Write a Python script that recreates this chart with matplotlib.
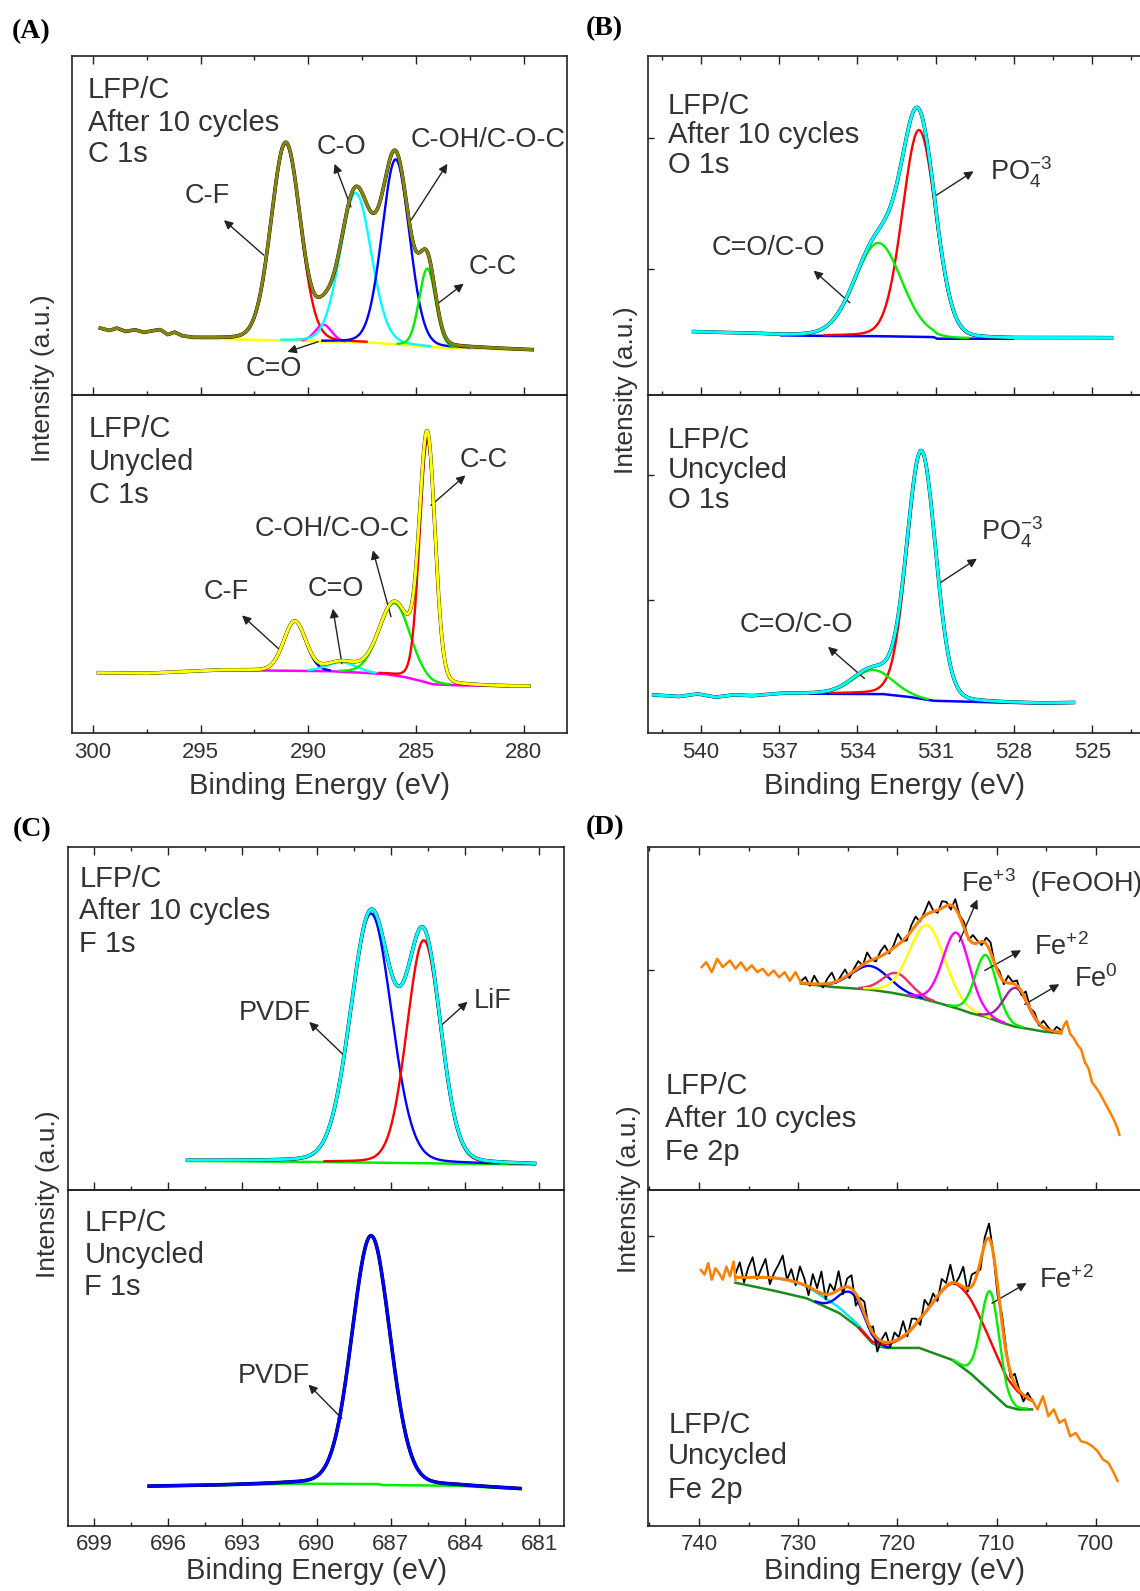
import numpy as np
import matplotlib.pyplot as plt
from matplotlib.ticker import MultipleLocator

plt.rcParams['font.family'] = ['Liberation Sans', 'DejaVu Sans']
plt.rcParams['mathtext.fontset'] = 'custom'
plt.rcParams['mathtext.rm'] = 'Liberation Sans'
plt.rcParams['mathtext.it'] = 'Liberation Sans:italic'
plt.rcParams['mathtext.bf'] = 'Liberation Sans:bold'

TXT = '#333333'

# ---------------- (A) C 1s ----------------
# after 10 cycles: C-F, C=O, C-O, C-OH/C-O-C, C-C
a1_center = [291.05, 289.3, 287.8, 285.94, 284.47]
a1_height = [58.0, 5.0, 44.0, 54.5, 23.0]
a1_fwhm = [1.6, 0.9, 1.7, 1.5, 0.9]
a1_bg_x = [299.66, 299.24, 298.90, 298.48, 298.06, 297.64, 297.22, 296.88, 296.54,
           296.20, 295.86, 295.36, 291.0, 287.0, 284.0, 282.0, 279.6]
a1_bg_y = [19.6, 18.9, 19.6, 18.6, 19.1, 18.3, 18.8, 19.1, 17.6,
           18.3, 17.2, 16.7, 16.0, 15.4, 14.0, 13.7, 13.2]
a1_fit = (295.36, 279.6)

# uncycled: C-F, C=O, C-OH/C-O-C, C-C
a2_center = [290.63, 288.44, 285.99, 284.47]
a2_height = [14.6, 2.8, 21.4, 72.0]
a2_fwhm = [1.2, 1.6, 1.7, 0.85]
a2_bg_x = [299.75, 297.55, 295.86, 294.18, 294.0, 289.1, 287.43, 286.41, 285.57,
           284.9, 284.22, 283.21, 280.68, 279.75]
a2_bg_y = [17.7, 17.5, 18.0, 18.5, 18.5, 18.2, 17.7, 17.3, 16.5,
           15.5, 14.3, 14.0, 13.7, 13.7]
a2_fit = (294.0, 280.68)

# ---------------- (B) O 1s ----------------
b1_center = [531.64, 533.2]     # PO4, C=O/C-O
b1_height = [61.0, 27.5]
b1_fwhm = [1.5, 2.1]
b1_bg_x = [540.28, 539.16, 538.05, 536.94, 535.26, 533.59, 531.09, 530.95, 528.02, 526.21, 524.26]
b1_bg_y = [18.6, 18.3, 18.1, 17.6, 17.4, 17.4, 17.1, 16.6, 16.6, 16.8, 16.8]
b1_fit = (536.94, 528.02)

b2_center = [531.55, 533.41]
b2_height = [73.1, 7.1]
b2_fwhm = [1.3, 1.8]
b2_bg_x = [541.81, 540.84, 540.14, 539.44, 538.75, 538.05, 536.94, 535.82, 533.04,
           532.06, 531.09, 529.69, 528.30, 526.91, 525.72]
b2_bg_y = [11.1, 10.6, 11.4, 10.4, 11.1, 10.8, 11.5, 11.5, 11.4,
           10.6, 9.4, 9.1, 8.8, 8.6, 8.8]
b2_fit = (535.82, 525.72)

# ---------------- (C) F 1s ----------------
c1_center = [687.8, 685.67]     # PVDF, LiF
c1_height = [72.6, 65.0]
c1_fwhm = [1.95, 1.61]
c1_bg_x = [695.22, 691.48, 686.63, 681.19]
c1_bg_y = [8.5, 8.3, 7.9, 7.4]
c1_fit = (695.22, 681.19)

c2_center = [687.8]
c2_height = [73.9]
c2_fwhm = [1.82]
c2_bg_x = [696.77, 693.97, 691.03, 687.51, 687.36, 684.42, 681.78]
c2_bg_y = [11.8, 12.1, 12.6, 12.5, 12.2, 12.0, 11.0]
c2_fit = (696.77, 681.78)

# ---------------- (D) Fe 2p ----------------
d1_center = [722.75, 720.1, 717.0, 714.05, 711.08, 708.07]
d1_height = [6.9, 6.0, 21.8, 22.0, 18.0, 11.3]
d1_fwhm = [4.5, 3.3, 4.2, 3.2, 2.6, 2.9]
d1_bg_x = [729.72, 726.6, 722.94, 720.73, 717.8, 716.33, 714.13, 712.66, 711.19,
           709.72, 708.26, 706.79, 705.32, 703.49]
d1_bg_y = [60.2, 59.2, 58.5, 57.6, 56.0, 54.9, 53.1, 51.6, 50.6,
           49.0, 47.7, 47.0, 46.2, 45.7]
d1_fit = (729.72, 703.49)
d1_left_x = [739.74, 739.27, 738.72, 738.17, 737.61, 736.88, 736.33, 735.78, 735.23, 734.68,
             734.13, 733.58, 733.03, 732.48, 731.93, 731.38, 730.83, 730.28, 729.72]
d1_left_y = [65.0, 66.4, 63.5, 67.4, 65.0, 66.9, 64.5, 66.4, 64.0, 65.5,
             63.5, 64.5, 62.5, 64.0, 62.0, 63.5, 61.0, 63.5, 60.5]
d1_right_x = [703.49, 703.2, 702.94, 702.57, 702.2, 701.83, 701.47, 701.1, 700.73,
              700.37, 700.0, 699.63, 699.27, 698.9, 698.53, 698.17, 697.8, 697.61]
d1_right_y = [45.7, 48.0, 49.2, 45.5, 44.2, 42.3, 41.0, 37.3, 35.5,
              31.4, 30.0, 28.4, 26.5, 24.5, 22.5, 20.5, 18.0, 16.1]
d1_resid = [0.5, 1.8, -0.6, 2.4, 0.2, -1.0, 1.5, 3.0, -0.4, 0.9, 2.2, -1.2, 0.6, 1.9, -0.3,
            2.8, 0.1, -0.9, 1.4, 2.5, -0.7, 0.8, 3.2, 0.0, -1.1, 1.7, 2.6, -0.5, 1.0, 3.4,
            0.3, -0.8, 2.0, 1.1, -1.3, 2.7, 0.4, 1.6, -0.6, 2.3, 0.7, -1.0, 1.8, 2.9, -0.2,
            1.2, -0.9, 2.1, 0.5, 1.5, -1.1, 2.4, 0.2, 1.3, -0.7, 1.9, 0.8, -0.4, 1.4, 0.6]

d2_center = [731.0, 724.6, 713.8, 710.64]
d2_height = [4.0, 8.7, 23.5, 29.7]
d2_fwhm_hi = [9.0, 3.0, 6.5, 2.2]
d2_fwhm_lo = [9.0, 3.0, 8.0, 2.2]
d2_bg_x = [736.33, 736.15, 732.84, 729.17, 725.87, 724.04, 722.57, 721.83, 721.1,
           717.8, 714.5, 712.66, 710.83, 708.99, 707.89, 706.42]
d2_bg_y = [72.4, 72.3, 70.3, 67.8, 63.4, 59.4, 54.5, 53.5, 53.0,
           53.0, 49.5, 45.5, 40.6, 35.6, 34.7, 34.7]
d2_fit = (736.33, 706.42)
d2_left_x = [739.82, 739.45, 739.08, 738.72, 738.35, 737.98, 737.61, 737.25, 736.88, 736.51, 736.33]
d2_left_y = [76.2, 74.8, 78.2, 73.3, 76.7, 75.2, 73.3, 77.2, 74.3, 78.7, 73.3]
d2_right_x = [706.42, 705.87, 705.32, 704.77, 704.22, 703.67, 703.12, 702.57, 702.02,
              701.47, 700.92, 700.37, 699.82, 699.27, 698.72, 698.17, 697.8]
d2_right_y = [37.6, 34.7, 38.6, 32.7, 34.7, 30.7, 31.7, 26.7, 27.7,
              25.2, 24.8, 23.8, 22.3, 19.8, 18.8, 15.8, 13.4]
d2_resid = [1.0, 4.5, -1.5, 3.0, 6.0, -0.5, 2.5, 5.5, -2.0, 1.5, 4.0, 7.0, 0.0, 3.5, -1.0,
            5.0, 2.0, -2.5, 4.5, 1.0, 6.5, -1.5, 3.0, 0.5, 5.5, -2.0, 2.5, 4.0, -3.5, 1.5,
            3.5, -1.0, 2.0, -4.0, 0.5, 3.0, -1.5, 2.5, 0.5, 4.5, -1.0, 3.0, 1.5, -2.0, 4.0,
            0.5, 2.5, -1.5, 3.5, 1.0, 5.5, -0.5, 2.0, 6.0, -1.0, 3.5, 1.5, -2.5, 2.0, 4.5,
            0.0, -3.0, 2.5, 1.0, -1.5, 3.0, 0.5, -2.0, 1.5, 0.0]


def peak(x, c, h, w_hi, w_lo):
    # pseudo-voigt, width may differ on each side
    w = np.where(x >= c, w_hi, w_lo)
    u = (x - c) / w
    return h * (0.9 * np.exp(-4 * np.log(2) * u ** 2) + 0.1 / (1 + 4 * u ** 2))


def draw_fit(ax, bg_x, bg_y, fit, centers, heights, w_hi, w_lo, comp_colors,
             env_color, bg_color, resid=None, env_lw=2.2):
    bg_x = np.asarray(bg_x); bg_y = np.asarray(bg_y)
    x = np.linspace(bg_x[0], bg_x[-1], 900)
    bg = np.interp(x, bg_x[::-1], bg_y[::-1])
    comps = [peak(x, c, h, a, b) for c, h, a, b in zip(centers, heights, w_hi, w_lo)]
    env = bg + np.sum(comps, axis=0)
    inside = (x <= fit[0]) & (x >= fit[1])
    ax.plot(np.where(inside, x, np.nan), bg, color=bg_color, lw=1.8, zorder=2)
    for comp, col in zip(comps, comp_colors):
        m = inside & (comp > 0.25)
        ax.plot(np.where(m, x, np.nan), comp + bg, color=col, lw=1.7, zorder=3)
    if resid is not None:
        xr = np.linspace(fit[0], fit[1], len(resid))
        yr = np.interp(xr, x[::-1], env[::-1]) + np.asarray(resid)
        ax.plot(xr, yr, color='black', lw=1.3, zorder=4)
    else:
        ax.plot(x, env, color='black', lw=env_lw + 0.4, zorder=4)
    ax.plot(x, env, color=env_color, lw=env_lw, zorder=5)


def style(ax, xlim, major, minor, yticks, is_top, right=True, pad=7):
    ax.set_facecolor('none')
    ax.set_xlim(*xlim)
    ax.set_ylim(0, 100)
    ax.xaxis.set_major_locator(MultipleLocator(major))
    ax.xaxis.set_minor_locator(MultipleLocator(minor))
    ax.set_yticks(yticks)
    ax.set_yticklabels([])
    ax.tick_params(axis='x', which='both', direction='in', top=is_top, bottom=True,
                   labelbottom=not is_top, labelsize=16, labelcolor=TXT, pad=pad, color='#222222')
    ax.tick_params(axis='x', which='major', length=5.5, width=1.0)
    ax.tick_params(axis='x', which='minor', length=3, width=1.0)
    ax.tick_params(axis='y', direction='in', length=4, width=1.0, left=True, right=False,
                   color='#222222')
    for s in ax.spines.values():
        s.set_linewidth(1.2)
        s.set_color('#222222')
    if not right:
        ax.spines['right'].set_visible(False)


def add_text(ax, x, ys, lines):
    for y, t in zip(ys, lines):
        ax.text(x, y, t, fontsize=21, color=TXT, ha='left', va='center')


def add_notes(ax, notes):
    for label, tx, ty, ha, tail, head in notes:
        ax.text(tx, ty, label, fontsize=19.5, color=TXT, ha=ha, va='center')
        ax.annotate('', xy=head, xytext=tail,
                    arrowprops=dict(arrowstyle='-|>', color='#222222', lw=1.0,
                                    mutation_scale=13, shrinkA=0, shrinkB=0))


fig = plt.figure(figsize=(11.4, 15.91), dpi=100)
W, H = 1140.0, 1591.0


def pair(x0, x1, y0, ym, y1):
    top = fig.add_axes([x0 / W, 1 - ym / H, (x1 - x0) / W, (ym - y0) / H])
    bot = fig.add_axes([x0 / W, 1 - y1 / H, (x1 - x0) / W, (y1 - ym) / H])
    return top, bot


axA1, axA2 = pair(71.5, 567.3, 55.5, 395, 732.5)
axB1, axB2 = pair(648.2, 1140, 56, 395, 732.5)
axC1, axC2 = pair(68.4, 563.6, 847, 1190, 1526)
axD1, axD2 = pair(648.2, 1140, 847, 1190, 1526)

# ---- A ----
draw_fit(axA1, a1_bg_x, a1_bg_y, a1_fit, a1_center, a1_height, a1_fwhm, a1_fwhm,
         ['#ff0000', '#ff00ff', '#00ffff', '#0000ff', '#00ee00'], '#858510', '#ffff00')
draw_fit(axA2, a2_bg_x, a2_bg_y, a2_fit, a2_center, a2_height, a2_fwhm, a2_fwhm,
         ['#0000ff', '#00ffff', '#00ee00', '#ff0000'], '#ffff00', '#ff00ff')
style(axA1, (301.0, 277.97), 5, 2.5, [], True)
style(axA2, (301.0, 277.97), 5, 2.5, [], False)
add_text(axA1, 300.25, [89.7, 80.1, 70.9], ['LFP/C', 'After 10 cycles', 'C 1s'])
add_text(axA2, 300.2, [90.0, 80.2, 70.3], ['LFP/C', 'Unycled', 'C 1s'])
add_notes(axA1, [
    ('C-F', 294.68, 58.5, 'center', (292.07, 41.2), (293.92, 51.5)),
    ('C-O', 288.44, 73.0, 'center', (288.02, 55.4), (288.78, 68.1)),
    ('C-OH/C-O-C', 285.23, 75.0, 'left', (285.23, 51.5), (283.54, 68.1)),
    ('C-C', 281.43, 37.7, 'center', (283.97, 27.0), (282.78, 32.8)),
    ('C=O', 291.61, 7.8, 'center', (289.54, 15.7), (290.97, 12.7)),
])
add_notes(axA2, [
    ('C-F', 293.8, 41.7, 'center', (291.31, 24.4), (293.08, 34.7)),
    ('C=O', 288.74, 42.6, 'center', (288.44, 20.4), (288.86, 36.7)),
    ('C-OH/C-O-C', 288.91, 60.4, 'center', (286.16, 34.3), (287.0, 54.0)),
    ('C-C', 281.86, 80.7, 'center', (284.3, 67.3), (282.7, 76.2)),
])

# ---- B ----
draw_fit(axB1, b1_bg_x, b1_bg_y, b1_fit, b1_center, b1_height, b1_fwhm, b1_fwhm,
         ['#ff0000', '#00ee00'], '#00ffff', '#0000ff')
draw_fit(axB2, b2_bg_x, b2_bg_y, b2_fit, b2_center, b2_height, b2_fwhm, b2_fwhm,
         ['#ff0000', '#00ee00'], '#00ffff', '#0000ff')
style(axB1, (542.02, 523.17), 3, 1.5, [37.2, 75.8], True, right=False)
style(axB2, (542.02, 523.17), 3, 1.5, [39.2, 76.4], False, right=False)
add_text(axB1, 541.28, [85.3, 76.8, 67.8], ['LFP/C', 'After 10 cycles', 'O 1s'])
add_text(axB2, 541.28, [86.6, 77.7, 68.8], ['LFP/C', 'Uncycled', 'O 1s'])
add_notes(axB1, [
    ('PO$_4^{-3}$', 528.93, 65.6, 'left', (531.02, 58.7), (529.55, 66.0)),
    ('C=O/C-O', 537.4, 43.5, 'center', (534.29, 27.2), (535.68, 36.7)),
])
add_notes(axB2, [
    ('PO$_4^{-3}$', 529.28, 59.4, 'left', (530.88, 44.1), (529.42, 51.5)),
    ('C=O/C-O', 536.35, 31.8, 'center', (533.73, 16.0), (535.13, 25.4)),
])

# ---- C ----
draw_fit(axC1, c1_bg_x, c1_bg_y, c1_fit, c1_center, c1_height, c1_fwhm, c1_fwhm,
         ['#0000ff', '#ff0000'], '#00ffff', '#00ee00')
draw_fit(axC2, c2_bg_x, c2_bg_y, c2_fit, c2_center, c2_height, c2_fwhm, c2_fwhm,
         ['#0000ff'], '#0000ff', '#00ee00')
style(axC1, (700.03, 680.02), 3, 1.5, [], True)
style(axC2, (700.03, 680.02), 3, 1.5, [], False, pad=6)
add_text(axC1, 699.59, [90.6, 81.2, 71.8], ['LFP/C', 'After 10 cycles', 'F 1s'])
add_text(axC2, 699.38, [90.3, 80.8, 71.2], ['LFP/C', 'Uncycled', 'F 1s'])
add_notes(axC1, [
    ('PVDF', 691.7, 51.6, 'center', (688.9, 39.3), (690.3, 49.0)),
    ('LiF', 682.88, 55.1, 'center', (685.01, 47.7), (683.9, 54.9)),
])
add_notes(axC2, [
    ('PVDF', 691.74, 44.6, 'center', (688.98, 32.0), (690.33, 42.1)),
])

# ---- D ----
ORANGE = '#ff8000'
axD1.plot(d1_left_x, d1_left_y, color=ORANGE, lw=1.8, zorder=5)
axD1.plot(d1_right_x, d1_right_y, color=ORANGE, lw=1.8, zorder=5)
draw_fit(axD1, d1_bg_x, d1_bg_y, d1_fit, d1_center, d1_height, d1_fwhm, d1_fwhm,
         ['#0000ff', '#e6306e', '#ffff00', '#ff00ff', '#00ee00', '#a020a0'],
         ORANGE, '#1a8c1a', resid=d1_resid)
axD2.plot(d2_left_x, d2_left_y, color=ORANGE, lw=1.8, zorder=5)
axD2.plot(d2_right_x, d2_right_y, color=ORANGE, lw=1.8, zorder=5)
draw_fit(axD2, d2_bg_x, d2_bg_y, d2_fit, d2_center, d2_height, d2_fwhm_hi, d2_fwhm_lo,
         ['#00e5ff', '#0000ff', '#ff0000', '#00ee00'],
         ORANGE, '#1a8c1a', resid=d2_resid)
style(axD1, (745.13, 695.53), 10, 5, [64.0], True, right=False)
style(axD2, (745.13, 695.53), 10, 5, [86.3], False, right=False, pad=6)
add_text(axD1, 743.41, [30.4, 20.7, 11.2], ['LFP/C', 'After 10 cycles', 'Fe 2p'])
add_text(axD2, 743.12, [30.0, 20.8, 10.7], ['LFP/C', 'Uncycled', 'Fe 2p'])
add_notes(axD1, [
    ('Fe$^{+3}$  (FeOOH)', 713.58, 89.4, 'left', (713.76, 72.4), (711.93, 84.7)),
    ('Fe$^{+2}$', 706.24, 70.9, 'left', (711.19, 64.0), (707.52, 69.9)),
    ('Fe$^{0}$', 702.2, 61.5, 'left', (707.16, 54.1), (703.67, 60.0)),
])
add_notes(axD2, [
    ('Fe$^{+2}$', 705.69, 73.3, 'left', (710.46, 66.3), (706.97, 72.3)),
])

# axis labels
for ax in (axA2, axB2):
    ax.set_xlabel('Binding Energy (eV)', fontsize=21, color=TXT, labelpad=6)
for ax in (axC2, axD2):
    ax.set_xlabel('Binding Energy (eV)', fontsize=21, color=TXT, labelpad=1)
for xp, yp in [(42.6, 378), (626, 390), (47.7, 1194), (629, 1189)]:
    fig.text(xp / W, 1 - yp / H, 'Intensity (a.u.)', rotation=90, fontsize=19,
             color=TXT, ha='center', va='center')

# panel letters
for xp, yp, t in [(11.7, 31.7, '(A)'), (586, 28.3, '(B)'), (12.7, 830, '(C)'), (586, 828, '(D)')]:
    fig.text(xp / W, 1 - yp / H, t, fontsize=20, fontweight='bold', color='black',
             family='Liberation Serif', ha='left', va='center')

fig.savefig('out.png', dpi=100)
